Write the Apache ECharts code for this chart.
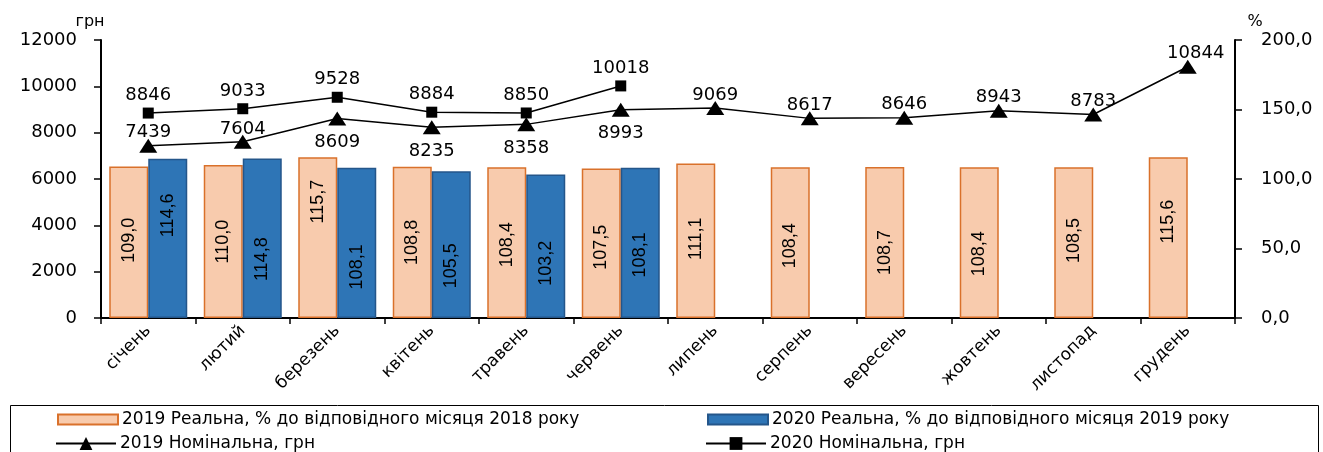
<!DOCTYPE html>
<html>
<head>
<meta charset="utf-8">
<script src="https://cdn.jsdelivr.net/npm/echarts@6/dist/echarts.min.js"></script>
<style>
html,body{margin:0;padding:0;background:#fff;}
#chart{width:1323px;height:452px;}
</style>
</head>
<body>
<div id="chart"></div>
<script>
// ---- data ----
const months = ['січень','лютий','березень','квітень','травень','червень','липень','серпень','вересень','жовтень','листопад','грудень'];
const real2019 = [109.0,110.0,115.7,108.8,108.4,107.5,111.1,108.4,108.7,108.4,108.5,115.6];
const real2020 = [114.6,114.8,108.1,105.5,103.2,108.1,null,null,null,null,null,null];
const nominal2019 = [7439,7604,8609,8235,8358,8993,9069,8617,8646,8943,8783,10844];
const nominal2020 = [8846,9033,9528,8884,8850,10018,null,null,null,null,null,null];

const seriesNames = {
  r19: '2019 Реальна, % до відповідного місяця 2018 року',
  r20: '2020 Реальна, % до відповідного місяця 2019 року',
  n19: '2019 Номінальна, грн',
  n20: '2020 Номінальна, грн'
};

// ---- label placement (style only): vertical shift of bar labels in px (+ = down) ----
const shift19 = [-2,0,-36,0,2,4,-2,3,10,11,-2,-16];
const shift20 = [-23,21,24,21,17,12];
const pos19 = ['top','top','bottom','bottom','bottom','bottom','top','top','top','top','top','top'];

const FONT = 'DejaVu Sans';
const BARFONT = 'Liberation Sans';
const fmtPct = v => v.toFixed(1).replace('.', ',');

const chart = echarts.init(document.getElementById('chart'), null, {renderer: 'canvas'});

const barLabel = {
  show: true,
  position: 'inside',
  rotate: 90,
  color: '#000',
  fontFamily: BARFONT,
  fontSize: 18,
  formatter: p => fmtPct(p.value)
};

function legendAt(left, top, name, isBar) {
  return {
    left: left, top: top, orient: 'horizontal', padding: 0,
    itemWidth: 60, itemHeight: isBar ? 10 : 16, itemGap: 0,
    icon: isBar ? 'rect' : undefined,
    data: [name],
    textStyle: {fontFamily: FONT, fontSize: 17, color: '#000', padding: [0, 0, 0, -1]}
  };
}

const option = {
  animation: false,
  textStyle: {fontFamily: FONT},
  grid: {left: 101, right: 88, top: 40, bottom: 134, containLabel: false},
  legend: [
    legendAt(57, 411, seriesNames.r19, true),
    legendAt(55, 435, seriesNames.n19, false),
    legendAt(707, 411, seriesNames.r20, true),
    legendAt(705, 435, seriesNames.n20, false)
  ],
  graphic: [{
    type: 'rect', left: 8, top: 403, silent: true,
    shape: {width: 1308, height: 60},
    style: {fill: 'none', stroke: '#000', lineWidth: 1}
  }],
  xAxis: {
    type: 'category',
    data: months,
    axisLine: {show: true, lineStyle: {color: '#000', width: 2}},
    axisTick: {show: true, length: 6, lineStyle: {color: '#000', width: 1.5}},
    axisLabel: {rotate: 45, interval: 0, margin: 10, fontSize: 17, color: '#000', fontFamily: FONT},
    splitLine: {show: false}
  },
  yAxis: [
    {
      type: 'value', min: 0, max: 12000, interval: 2000, position: 'left',
      name: 'грн', nameLocation: 'end', nameGap: 10,
      nameTextStyle: {fontSize: 16, color: '#000', fontFamily: FONT, align: 'center', padding: [0, 22, 0, 0]},
      axisLine: {show: true, lineStyle: {color: '#000', width: 2}},
      axisTick: {show: true, length: 7, lineStyle: {color: '#000', width: 1.5}},
      axisLabel: {fontSize: 18, color: '#000', margin: 24, fontFamily: FONT, formatter: v => String(v)},
      splitLine: {show: false}
    },
    {
      type: 'value', min: 0, max: 200, interval: 50, position: 'right',
      name: '%', nameLocation: 'end', nameGap: 10,
      nameTextStyle: {fontSize: 16, color: '#000', fontFamily: FONT, align: 'center', padding: [0, 0, 0, 40]},
      axisLine: {show: true, lineStyle: {color: '#000', width: 2}},
      axisTick: {show: true, length: 7, lineStyle: {color: '#000', width: 1.5}},
      axisLabel: {fontSize: 18, color: '#000', margin: 26, fontFamily: FONT, formatter: v => fmtPct(v)},
      splitLine: {show: false}
    }
  ],
  series: [
    {
      name: seriesNames.r19, type: 'bar', yAxisIndex: 1,
      barWidth: 39, barGap: '0%',
      itemStyle: {color: '#F8CBAD', borderColor: '#D9712B', borderWidth: 1.5},
      label: barLabel,
      data: real2019.map((v, i) => ({value: v, label: {offset: [-shift19[i], 0]}})),
      z: 2
    },
    {
      name: seriesNames.r20, type: 'bar', yAxisIndex: 1,
      barWidth: 39, barGap: '0%',
      itemStyle: {color: '#2E75B6', borderColor: '#24568A', borderWidth: 1.5},
      label: barLabel,
      data: real2020.map((v, i) => v == null ? null : ({value: v, label: {offset: [-shift20[i], 0]}})),
      z: 2
    },
    {
      name: seriesNames.n19, type: 'line', yAxisIndex: 0,
      symbol: 'triangle', symbolSize: [18, 14],
      lineStyle: {color: '#000', width: 1.5},
      itemStyle: {color: '#000'},
      label: {show: true, color: '#000', fontSize: 18, fontFamily: FONT},
      data: nominal2019.map((v, i) => ({
        value: v,
        label: pos19[i] === 'top'
          ? {position: 'top', distance: -3, offset: i === 11 ? [8, 0] : [0, 0]}
          : {position: 'bottom', distance: 8}
      })),
      z: 5
    },
    {
      name: seriesNames.n20, type: 'line', yAxisIndex: 0,
      symbol: 'rect', symbolSize: 11,
      lineStyle: {color: '#000', width: 1.5},
      itemStyle: {color: '#000'},
      label: {show: true, position: 'top', distance: 3, color: '#000', fontSize: 18, fontFamily: FONT},
      data: nominal2020,
      z: 5
    }
  ]
};

chart.setOption(option);
</script>
</body>
</html>
